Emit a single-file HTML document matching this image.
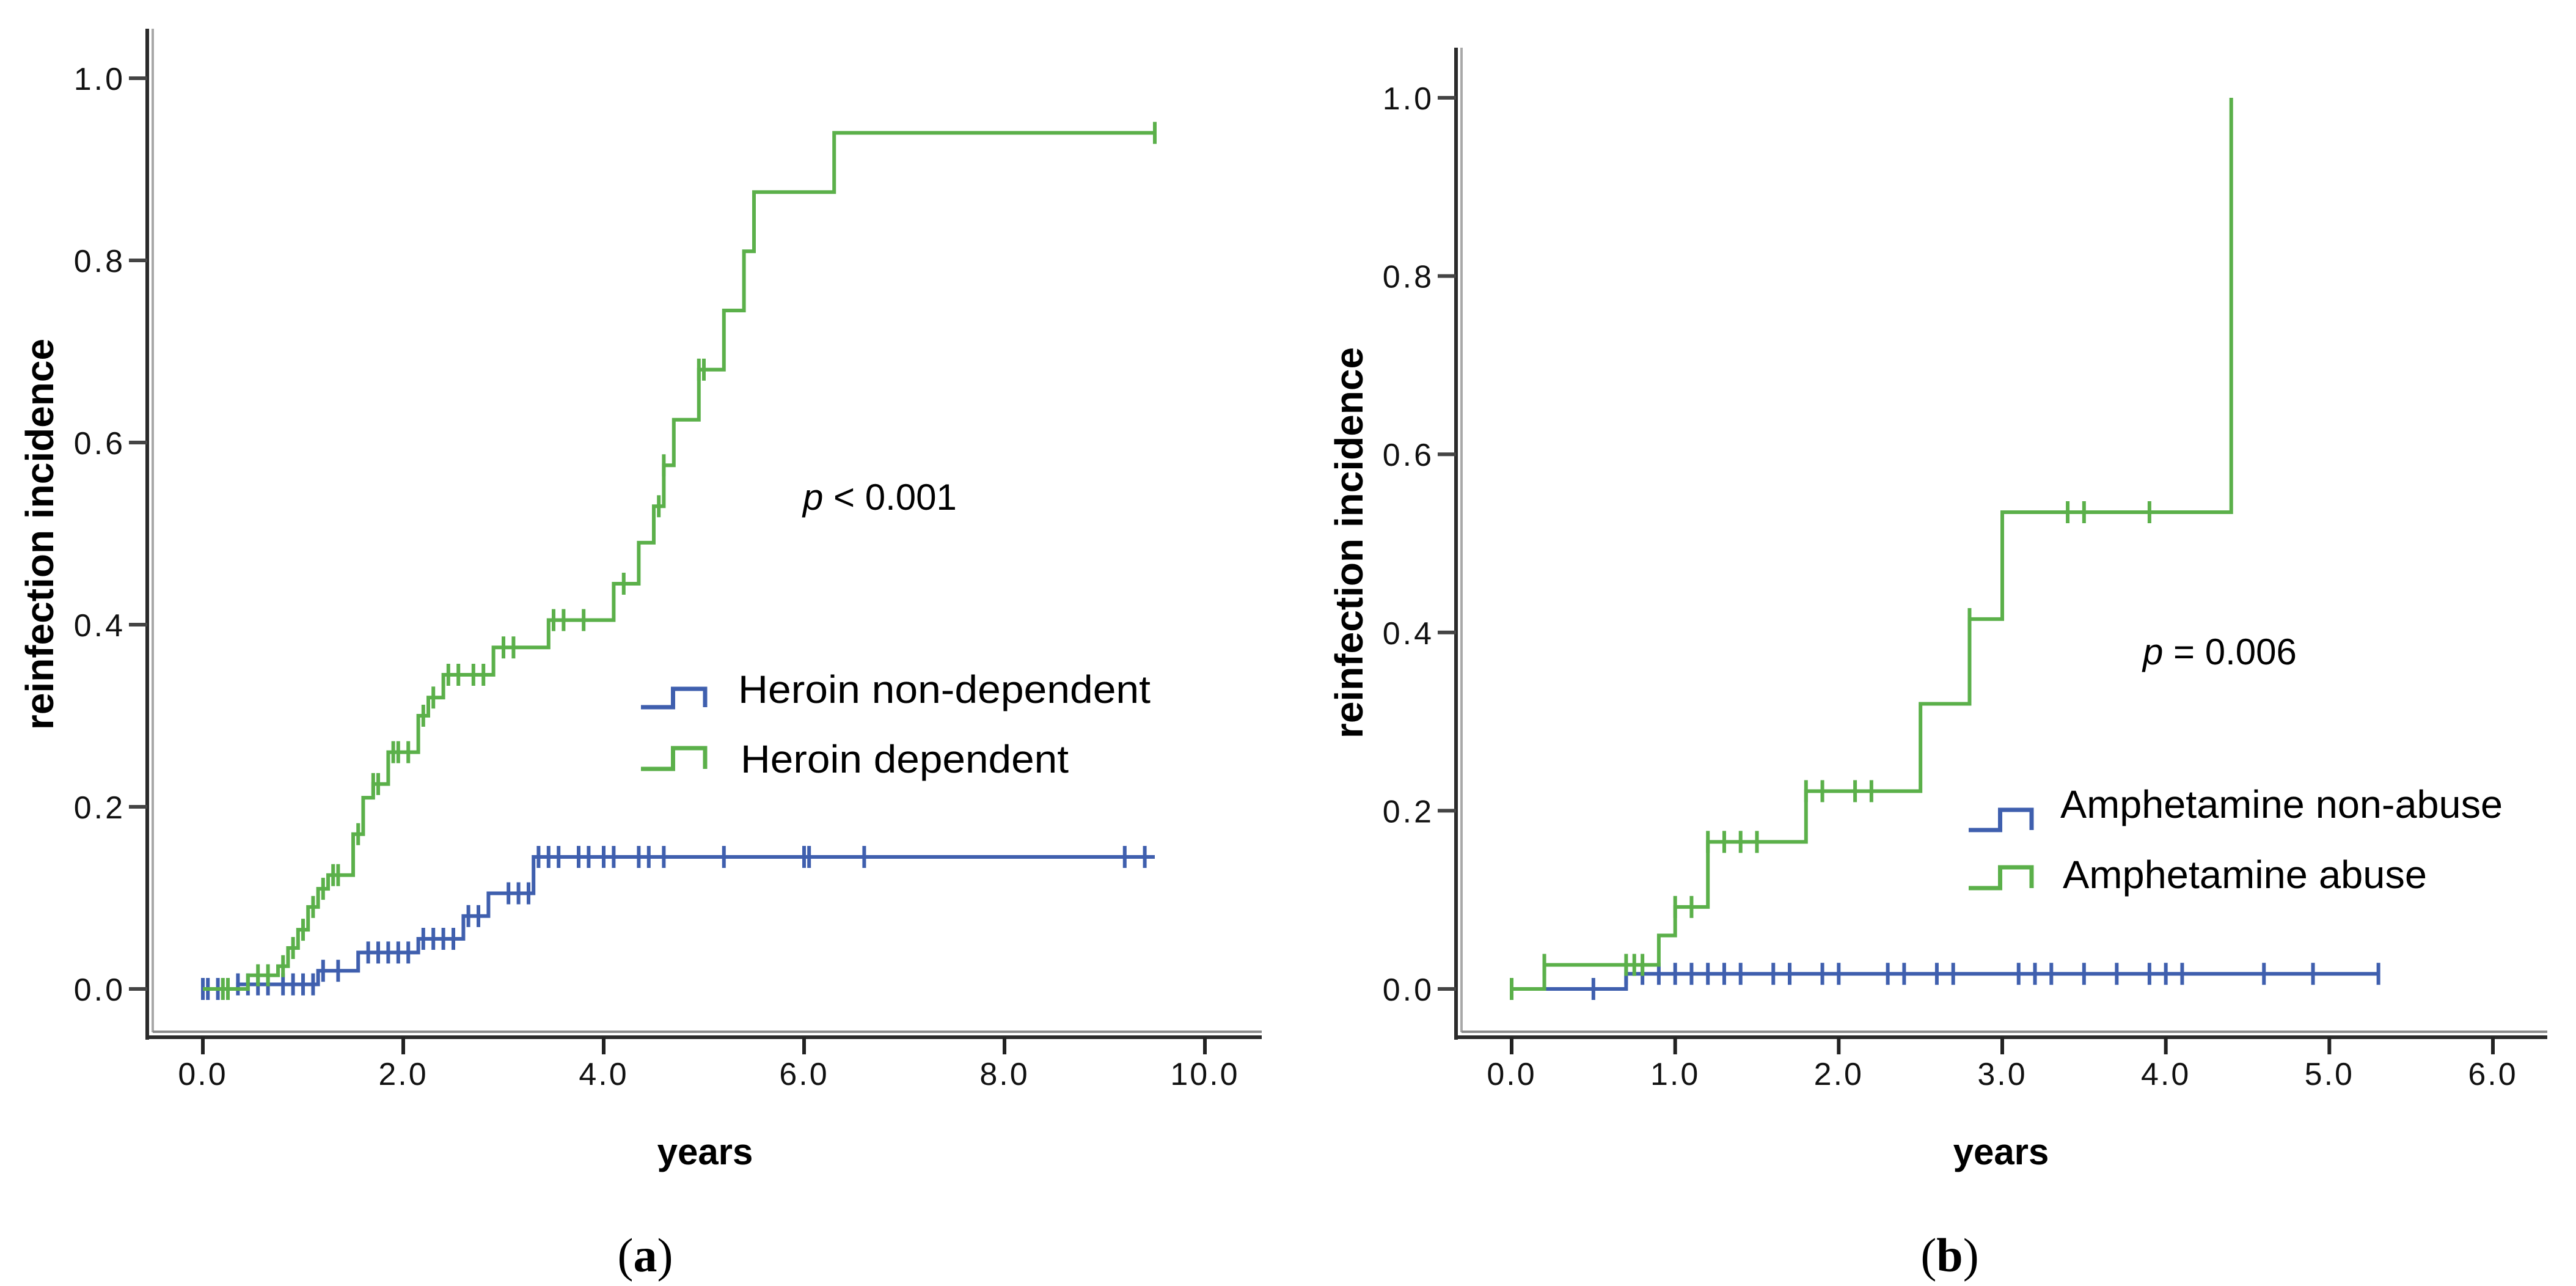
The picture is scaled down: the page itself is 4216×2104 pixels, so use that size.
<!DOCTYPE html>
<html><head><meta charset="utf-8"><style>
html,body{margin:0;padding:0;background:#fff;}
svg{display:block;}
text{font-family:"Liberation Sans",sans-serif;}
</style></head><body>
<svg id="fig" width="4216" height="2104" viewBox="0 0 4216 2104" xmlns="http://www.w3.org/2000/svg">
<rect width="4216" height="2104" fill="#fff"/>
<g id="pa"></g>
<g id="pb"></g>
</svg>
<script>
// ---------- Panel (a) data ----------
const aXTicks = [0, 2, 4, 6, 8, 10];
const aXTickLabels = ["0.0", "2.0", "4.0", "6.0", "8.0", "10.0"];
const yTicks = [0, 0.2, 0.4, 0.6, 0.8, 1.0];
const yTickLabels = ["0.0", "0.2", "0.4", "0.6", "0.8", "1.0"];
const aDepTimes = [0, 0.45, 0.75, 0.85, 0.95, 1.05, 1.15, 1.25, 1.5, 1.6, 1.7, 1.85, 2.15, 2.25, 2.4, 2.9, 3.45, 4.1, 4.35, 4.5, 4.6, 4.7, 4.95, 5.2, 5.4, 5.5, 6.3];
const aDepVals  = [0, 0.015, 0.025, 0.045, 0.065, 0.09, 0.11, 0.125, 0.17, 0.21, 0.225, 0.26, 0.30, 0.32, 0.345, 0.375, 0.405, 0.445, 0.49, 0.53, 0.575, 0.625, 0.68, 0.745, 0.81, 0.875, 0.94];
const aDepEnd = 9.5;
const aDepCens = [0.2, 0.25, 0.55, 0.65, 0.8, 0.9, 1.0, 1.1, 1.2, 1.3, 1.35, 1.55, 1.7, 1.75, 1.9, 1.95, 2.05, 2.2, 2.3, 2.45, 2.55, 2.7, 2.8, 3.0, 3.1, 3.5, 3.6, 3.8, 4.2, 4.55, 4.6, 4.95, 5.0, 9.5];
const aNonTimes = [0, 0.35, 1.15, 1.55, 2.15, 2.6, 2.85, 3.3];
const aNonVals  = [0, 0.005, 0.02, 0.04, 0.055, 0.08, 0.105, 0.145];
const aNonEnd = 9.5;
const aNonCens = [0, 0.05, 0.15, 0.25, 0.35, 0.45, 0.55, 0.65, 0.8, 0.9, 1.0, 1.1, 1.2, 1.35, 1.65, 1.75, 1.85, 1.95, 2.05, 2.2, 2.3, 2.4, 2.5, 2.65, 2.75, 3.05, 3.15, 3.25, 3.35, 3.45, 3.55, 3.75, 3.85, 4.0, 4.1, 4.35, 4.45, 4.6, 5.2, 6.0, 6.05, 6.6, 9.2, 9.4];

// ---------- Panel (b) data ----------
const bXTicks = [0, 1, 2, 3, 4, 5, 6];
const bXTickLabels = ["0.0", "1.0", "2.0", "3.0", "4.0", "5.0", "6.0"];
const bAbTimes = [0, 0.2, 0.9, 1.0, 1.2, 1.8, 2.5, 2.8, 3.0, 4.4];
const bAbVals  = [0, 0.027, 0.06, 0.092, 0.165, 0.222, 0.32, 0.415, 0.535, 1.0];
const bAbEnd = 4.4;
const bAbCens = [0, 0.2, 0.7, 0.75, 0.8, 1.0, 1.1, 1.2, 1.3, 1.4, 1.5, 1.8, 1.9, 2.1, 2.2, 2.8, 3.4, 3.5, 3.9];
const bNonTimes = [0, 0.7];
const bNonVals  = [0, 0.017];
const bNonEnd = 5.3;
const bNonCens = [0.5, 0.7, 0.8, 0.9, 1.0, 1.1, 1.2, 1.3, 1.4, 1.6, 1.7, 1.9, 2.0, 2.3, 2.4, 2.6, 2.7, 3.1, 3.2, 3.3, 3.5, 3.7, 3.9, 4.0, 4.1, 4.6, 4.9, 5.3];

const NS = "http://www.w3.org/2000/svg";
const BLUE = "#3f5fae", GREEN = "#5bb04a";
function mk(parent, tag, attrs) {
  const e = document.createElementNS(NS, tag);
  for (const k in attrs) e.setAttribute(k, attrs[k]);
  parent.appendChild(e);
  return e;
}
function stepVal(times, vals, t) {
  let v = vals[0];
  for (let i = 0; i < times.length; i++) if (times[i] <= t) v = vals[i];
  return v;
}
function drawPanel(g, cfg) {
  const sx = v => cfg.x0 + (v - cfg.xmin) * (cfg.x1 - cfg.x0) / (cfg.xmax - cfg.xmin);
  const sy = v => cfg.y0 + v * (cfg.y1 - cfg.y0);
  let e = mk(g, "line", {x1: cfg.ax, y1: cfg.top, x2: cfg.ax, y2: cfg.axY + 4, stroke: "#2b2b2b", "stroke-width": 6});
  
  
  mk(g, "line", {x1: cfg.ax + 9, y1: cfg.top, x2: cfg.ax + 9, y2: cfg.axY - 8, stroke: "#a8a8a8", "stroke-width": 4});
  e = mk(g, "line", {x1: cfg.ax - 2, y1: cfg.axY, x2: cfg.right, y2: cfg.axY, stroke: "#2b2b2b", "stroke-width": 6});
  
  
  mk(g, "line", {x1: cfg.ax + 9, y1: cfg.axY - 9, x2: cfg.right, y2: cfg.axY - 9, stroke: "#8a8a8a", "stroke-width": 4});
  yTicks.forEach((v, i) => {
    mk(g, "line", {x1: cfg.ax - 30, y1: sy(v), x2: cfg.ax, y2: sy(v), stroke: "#444", "stroke-width": 6});
    const t = mk(g, "text", {x: cfg.ax - 36, y: sy(v) + 19, "text-anchor": "end", "font-size": 52, "letter-spacing": 4, fill: "#111"});
    t.textContent = yTickLabels[i];
    
    
  });
  cfg.xTicks.forEach((v, i) => {
    mk(g, "line", {x1: sx(v), y1: cfg.axY, x2: sx(v), y2: cfg.axY + 28, stroke: "#222", "stroke-width": 6});
    const t = mk(g, "text", {x: sx(v), y: cfg.axY + 78, "text-anchor": "middle", "font-size": 52, "letter-spacing": 3, fill: "#111"});
    t.textContent = cfg.xLabels[i];
    
    
  });
  cfg.series.forEach(s => {
    let d = "M" + sx(s.times[0]) + "," + sy(s.vals[0]);
    for (let i = 1; i < s.times.length; i++) {
      d += " H" + sx(s.times[i]) + " V" + sy(s.vals[i]);
    }
    d += " H" + sx(s.end);
    const p = mk(g, "path", {d: d, fill: "none", stroke: s.color, "stroke-width": 6});
    
    
    s.cens.forEach(c => {
      const y = sy(stepVal(s.times, s.vals, c));
      const m = mk(g, "line", {x1: sx(c), y1: y - 18, x2: sx(c), y2: y + 18, stroke: s.color, "stroke-width": 6});
      
      
    });
  });
}
function addText(g, name, x, y, txt, attrs) {
  const t = mk(g, "text", Object.assign({x: x, y: y, fill: "#000"}, attrs));
  t.textContent = txt;
  
  
  return t;
}
function legendEntry(g, name, x0, x1, yLow, yHigh, color, tx, ty, label, tlen) {
  const lg = mk(g, "g", {});
  
  
  const xm = (x0 + x1) / 2;
  mk(lg, "path", {d: `M${x0},${yLow} H${xm} V${yHigh} H${x1} V${yLow}`, fill: "none", stroke: color, "stroke-width": 7});
  const t = mk(lg, "text", {x: tx, y: ty, "font-size": 64, fill: "#000", textLength: tlen, lengthAdjust: "spacingAndGlyphs"});
  t.textContent = label;
}

const ga = document.getElementById("pa");
drawPanel(ga, {x0: 332, x1: 1972, xmin: 0, xmax: 10, y0: 1618, y1: 128, ax: 241, top: 47, axY: 1697, right: 2065,
  xTicks: aXTicks, xLabels: aXTickLabels,
  series: [
    {name: "heroin-non-dependent", times: aNonTimes, vals: aNonVals, end: aNonEnd, cens: aNonCens, color: BLUE},
    {name: "heroin-dependent", times: aDepTimes, vals: aDepVals, end: aDepEnd, cens: aDepCens, color: GREEN}
  ]});
addText(ga, "x-axis-title", 1154, 1905, "years", {"text-anchor": "middle", "font-size": 60, "font-weight": "bold"});
addText(ga, "y-axis-title", 0, 0, "reinfection incidence", {"text-anchor": "middle", "font-size": 64, "font-weight": "bold", transform: "translate(87,874) rotate(-90)"});
const la = addText(ga, "panel-label-a", 1056, 2080, "", {"text-anchor": "middle", "font-size": 78, style: "font-family:'Liberation Serif',serif"});
la.innerHTML = '(<tspan font-weight="bold">a</tspan>)';
const pa = addText(ga, "p-value", 1314, 834, "", {"font-size": 60});
pa.innerHTML = '<tspan font-style="italic">p</tspan> &lt; 0.001';
legendEntry(ga, "legend-heroin-non-dependent", 1049, 1154, 1157, 1127, BLUE, 1208, 1150, "Heroin non-dependent", 675);
legendEntry(ga, "legend-heroin-dependent", 1049, 1154, 1258, 1224, GREEN, 1212, 1264, "Heroin dependent", 537);

const gb = document.getElementById("pb");
drawPanel(gb, {x0: 2474, x1: 4080, xmin: 0, xmax: 6, y0: 1618, y1: 160, ax: 2383, top: 78, axY: 1697, right: 4169,
  xTicks: bXTicks, xLabels: bXTickLabels,
  series: [
    {name: "amphetamine-non-abuse", times: bNonTimes, vals: bNonVals, end: bNonEnd, cens: bNonCens, color: BLUE},
    {name: "amphetamine-abuse", times: bAbTimes, vals: bAbVals, end: bAbEnd, cens: bAbCens, color: GREEN}
  ]});
addText(gb, "x-axis-title", 3275, 1905, "years", {"text-anchor": "middle", "font-size": 60, "font-weight": "bold"});
addText(gb, "y-axis-title", 0, 0, "reinfection incidence", {"text-anchor": "middle", "font-size": 64, "font-weight": "bold", transform: "translate(2230,888) rotate(-90)"});
const lb = addText(gb, "panel-label-b", 3191, 2080, "", {"text-anchor": "middle", "font-size": 78, style: "font-family:'Liberation Serif',serif"});
lb.innerHTML = '(<tspan font-weight="bold">b</tspan>)';
const pb = addText(gb, "p-value", 3507, 1087, "", {"font-size": 60});
pb.innerHTML = '<tspan font-style="italic">p</tspan> = 0.006';
legendEntry(gb, "legend-amphetamine-non-abuse", 3222, 3325, 1358, 1325, BLUE, 3372, 1338, "Amphetamine non-abuse", 724);
legendEntry(gb, "legend-amphetamine-abuse", 3222, 3325, 1453, 1419, GREEN, 3376, 1453, "Amphetamine abuse", 596);
</script>
</body></html>
